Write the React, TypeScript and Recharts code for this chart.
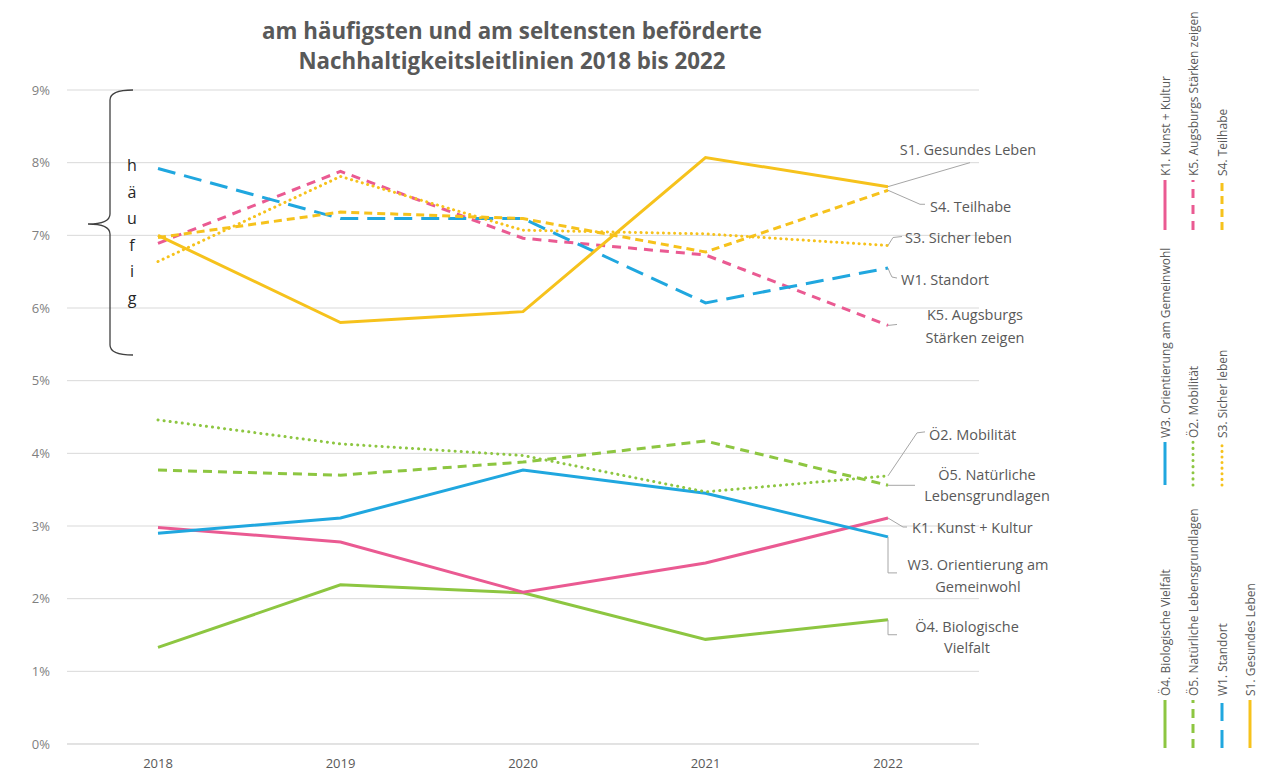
import { LineChart, Line, XAxis, YAxis, CartesianGrid } from "recharts";

// Values in percent
const years = ["2018", "2019", "2020", "2021", "2022"];
const yTicks = [0, 1, 2, 3, 4, 5, 6, 7, 8, 9];

const s1Gesundes = [7.0, 5.8, 5.95, 8.07, 7.67];
const s4Teilhabe = [6.97, 7.32, 7.23, 6.77, 7.62];
const s3Sicher = [6.64, 7.81, 7.07, 7.02, 6.86];
const w1Standort = [7.92, 7.23, 7.23, 6.07, 6.55];
const k5Augsburg = [6.89, 7.88, 6.96, 6.73, 5.76];
const o2Mobil = [4.46, 4.13, 3.97, 3.47, 3.69];
const o5Natur = [3.77, 3.7, 3.88, 4.17, 3.56];
const w3Gemein = [2.9, 3.11, 3.77, 3.45, 2.85];
const k1Kunst = [2.98, 2.78, 2.09, 2.49, 3.11];
const o4Bio = [1.33, 2.19, 2.08, 1.44, 1.71];

const YELLOW = "#f6c21c";
const BLUE = "#20a7df";
const PINK = "#ea5a92";
const GREEN = "#8dc641";
const TEXT = "#595959";
const LEADER = "#a6a6a6";
const FONT = "'Open Sans', 'Noto Sans', sans-serif";

type Ann = {
  path: [number, number][];
  dx: number;
  dy: number[];
  lines: string[];
  anchor: "start" | "middle";
};

type Series = {
  key: string;
  name: string;
  values: number[];
  color: string;
  dash?: string;
  width: number;
  cap?: "round" | "butt";
  ann: Ann;
  legend: [number, number]; // group, column
};

const series: Series[] = [
  {
    key: "o4", name: "Ö4. Biologische Vielfalt", values: o4Bio, color: GREEN, width: 3,
    ann: { path: [[0, 0], [0, 15], [9, 15]], dx: 79, dy: [7, 28], lines: ["Ö4. Biologische", "Vielfalt"], anchor: "middle" },
    legend: [2, 0],
  },
  {
    key: "k1", name: "K1. Kunst + Kultur", values: k1Kunst, color: PINK, width: 3,
    ann: { path: [[0, 0], [15, 9], [19, 9]], dx: 24, dy: [9], lines: ["K1. Kunst + Kultur"], anchor: "start" },
    legend: [0, 0],
  },
  {
    key: "w3", name: "W3. Orientierung am Gemeinwohl", values: w3Gemein, color: BLUE, width: 3,
    ann: { path: [[0, 0], [0, 36], [9, 36]], dx: 90, dy: [28, 50], lines: ["W3. Orientierung am", "Gemeinwohl"], anchor: "middle" },
    legend: [1, 0],
  },
  {
    key: "o5", name: "Ö5. Natürliche Lebensgrundlagen", values: o5Natur, color: GREEN, width: 3, dash: "9 6",
    ann: { path: [[0, 0], [27, 0]], dx: 99, dy: [-11, 10], lines: ["Ö5. Natürliche", "Lebensgrundlagen"], anchor: "middle" },
    legend: [2, 1],
  },
  {
    key: "o2", name: "Ö2. Mobilität", values: o2Mobil, color: GREEN, width: 3, dash: "0.1 6", cap: "round",
    ann: { path: [[0, 0], [29, -43], [37, -44]], dx: 41, dy: [-41], lines: ["Ö2. Mobilität"], anchor: "start" },
    legend: [1, 1],
  },
  {
    key: "k5", name: "K5. Augsburgs Stärken zeigen", values: k5Augsburg, color: PINK, width: 3, dash: "9 7",
    ann: { path: [[0, 0], [9, -1]], dx: 87, dy: [-11, 12], lines: ["K5. Augsburgs", "Stärken zeigen"], anchor: "middle" },
    legend: [0, 1],
  },
  {
    key: "w1", name: "W1. Standort", values: w1Standort, color: BLUE, width: 3, dash: "18 9",
    ann: { path: [[0, 0], [2, 5], [4, 9], [9, 10]], dx: 13, dy: [11], lines: ["W1. Standort"], anchor: "start" },
    legend: [2, 2],
  },
  {
    key: "s3", name: "S3. Sicher leben", values: s3Sicher, color: YELLOW, width: 3, dash: "0.1 5.5", cap: "round",
    ann: { path: [[0, 0], [5, -8], [14, -9]], dx: 17, dy: [-8], lines: ["S3. Sicher leben"], anchor: "start" },
    legend: [1, 2],
  },
  {
    key: "s4", name: "S4. Teilhabe", values: s4Teilhabe, color: YELLOW, width: 3, dash: "8 5",
    ann: { path: [[0, 0], [32, 14], [37, 14]], dx: 42, dy: [16], lines: ["S4. Teilhabe"], anchor: "start" },
    legend: [0, 2],
  },
  {
    key: "s1", name: "S1. Gesundes Leben", values: s1Gesundes, color: YELLOW, width: 3,
    ann: { path: [[0, 0], [82, -24]], dx: 80, dy: [-37], lines: ["S1. Gesundes Leben"], anchor: "middle" },
    legend: [2, 3],
  },
];

const data = years.map((year, i) => {
  const row: Record<string, string | number> = { year };
  series.forEach((s) => {
    row[s.key] = s.values[i];
  });
  return row;
});

const endLabel = (s: Series) => (props: any) => {
  const { x, y, index } = props;
  if (index !== years.length - 1) return <g key={`${s.key}-${index}`} />;
  const pts = s.ann.path.map(([a, b]) => `${x + a},${y + b}`).join(" ");
  return (
    <g key={`${s.key}-ann`}>
      <polyline points={pts} fill="none" stroke={LEADER} strokeWidth={1} />
      {s.ann.lines.map((t, i) => (
        <text
          key={i}
          x={x + s.ann.dx}
          y={y + s.ann.dy[i]}
          textAnchor={s.ann.anchor}
          dominantBaseline="central"
          fontSize={14.5}
          fontFamily={FONT}
          fill={TEXT}
        >
          {t}
        </text>
      ))}
    </g>
  );
};

const legendCols = [1165, 1193, 1222, 1250];
const legendRows = [
  { y1: 230, y2: 180 },
  { y1: 485, y2: 442 },
  { y1: 748, y2: 700 },
];

function Overlay() {
  return (
    <svg
      width={1265}
      height={774}
      style={{ position: "absolute", left: 0, top: 0, pointerEvents: "none" }}
    >
      <text x={512} y={39} textAnchor="middle" fontSize={22.3} fontWeight={700} fontFamily={FONT} fill={TEXT}>
        am häufigsten und am seltensten beförderte
      </text>
      <text x={512} y={69} textAnchor="middle" fontSize={22.3} fontWeight={700} fontFamily={FONT} fill={TEXT}>
        Nachhaltigkeitsleitlinien 2018 bis 2022
      </text>

      {/* brace for "häufig" */}
      <path
        d="M133,90 Q110,90 110,100 L110,214 Q110,224 88,224 Q110,224 110,234 L110,345 Q110,355 133,355"
        fill="none"
        stroke="#404040"
        strokeWidth={1.3}
      />
      {["h", "ä", "u", "f", "i", "g"].map((c, i) => (
        <text
          key={i}
          x={132}
          y={165 + i * 26.6}
          textAnchor="middle"
          dominantBaseline="central"
          fontSize={16}
          fontFamily={FONT}
          fill="#262626"
        >
          {c}
        </text>
      ))}

      {series.map((s) => {
        const [g, c] = s.legend;
        const x = legendCols[c];
        const { y1, y2 } = legendRows[g];
        return (
          <g key={s.key}>
            <line
              x1={x}
              y1={y1}
              x2={x}
              y2={y2}
              stroke={s.color}
              strokeWidth={s.width}
              strokeDasharray={s.dash}
              strokeLinecap={s.cap ?? "butt"}
            />
            <text
              x={x}
              y={y2 - 4}
              transform={`rotate(-90 ${x} ${y2 - 4})`}
              textAnchor="start"
              dominantBaseline="central"
              fontSize={12}
              fontFamily={FONT}
              fill={TEXT}
            >
              {s.name}
            </text>
          </g>
        );
      })}
    </svg>
  );
}

export default function App() {
  return (
    <div style={{ position: "absolute", left: 0, top: 0, width: 1265, height: 774, background: "#fff" }}>
      <LineChart
        width={1265}
        height={774}
        data={data}
        margin={{ top: 90, right: 286, left: 0, bottom: 0 }}
      >
        <CartesianGrid vertical={false} stroke="#d9d9d9" />
        <XAxis
          dataKey="year"
          height={30}
          padding={{ left: 91, right: 91 }}
          tickLine={false}
          axisLine={{ stroke: "#d9d9d9" }}
          tickSize={0}
          tickMargin={15}
          tick={{ fill: TEXT, fontSize: 13, fontFamily: FONT }}
        />
        <YAxis
          width={67}
          domain={[0, 9]}
          ticks={yTicks}
          tickFormatter={(v: number) => `${v}%`}
          axisLine={false}
          tickLine={false}
          tickSize={0}
          tickMargin={17}
          tick={{ fill: "#7f7f7f", fontSize: 13, fontFamily: FONT }}
        />
        {series.map((s) => (
          <Line
            key={s.key}
            dataKey={s.key}
            name={s.name}
            type="linear"
            stroke={s.color}
            strokeWidth={s.width}
            strokeDasharray={s.dash}
            strokeLinecap={s.cap ?? "butt"}
            dot={false}
            activeDot={false}
            isAnimationActive={false}
            label={endLabel(s)}
          />
        ))}
      </LineChart>
      <Overlay />
    </div>
  );
}
